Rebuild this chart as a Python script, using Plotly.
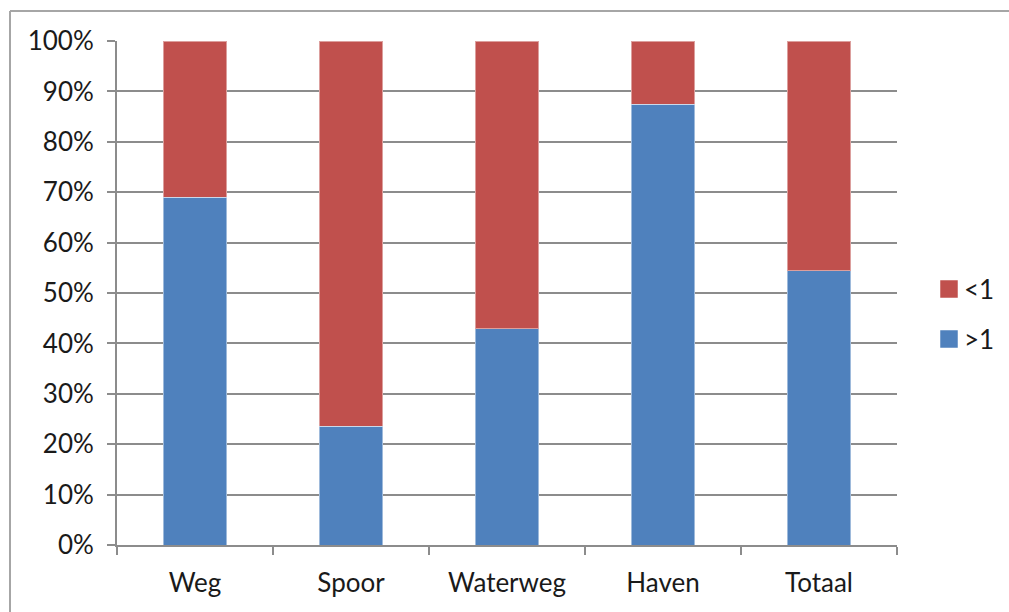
import plotly.graph_objects as go

categories = ["Weg", "Spoor", "Waterweg", "Haven", "Totaal"]
share_above_1 = [69.0, 23.6, 42.9, 87.5, 54.4]
share_below_1 = [100 - v for v in share_above_1]
y_ticks = list(range(0, 101, 10))
y_tick_labels = [f"{v}%" for v in y_ticks]

BLUE = "#4F81BD"
RED = "#C0504D"
GRID = "#8C8C8C"
FRAME = "#A6A6A6"
FONT = "Lato, 'Open Sans', sans-serif"

# plot area geometry in pixels (used to place frame and legend in paper units)
L, T, W, H = 117, 41, 780, 504


def px_x(px):
    return (px - L) / W


def px_y(py):
    return (T + H - py) / H


series = [
    ("<1", share_below_1, RED),
    (">1", share_above_1, BLUE),
]

fig = go.Figure()
for name, vals, color in reversed(series):
    fig.add_trace(go.Bar(
        x=categories, y=vals, name=name, showlegend=False,
        marker=dict(color=color, line=dict(color="rgba(255,255,255,0.45)", width=1)),
    ))

# chart frame: left and top edges of the surrounding box
shapes = [
    dict(type="line", xref="paper", yref="paper", x0=px_x(10), x1=px_x(10),
         y0=px_y(700), y1=px_y(11), line=dict(color=FRAME, width=2)),
    dict(type="line", xref="paper", yref="paper", x0=px_x(10), x1=px_x(1100),
         y0=px_y(11), y1=px_y(11), line=dict(color=FRAME, width=2)),
]
annotations = []

# legend: coloured squares with labels
for i, (name, _, color) in enumerate(series):
    cy = 289 + 50 * i
    shapes.append(dict(
        type="rect", xref="paper", yref="paper",
        x0=px_x(940), x1=px_x(958), y0=px_y(cy + 9), y1=px_y(cy - 9),
        fillcolor=color, line=dict(color="rgba(255,255,255,0.5)", width=1),
    ))
    annotations.append(dict(
        xref="paper", yref="paper", x=px_x(962), y=px_y(cy),
        xanchor="left", yanchor="middle", text=name, showarrow=False,
        font=dict(size=26),
    ))

fig.update_layout(
    barmode="stack",
    bargap=0.595,
    width=1009, height=612,
    margin=dict(l=L, r=1009 - L - W, t=T, b=612 - T - H),
    paper_bgcolor="white", plot_bgcolor="white",
    font=dict(family=FONT, size=26, color="#1a1a1a"),
    showlegend=False,
    shapes=shapes,
    annotations=annotations,
)

fig.update_yaxes(
    range=[0, 100], tickvals=y_ticks, ticktext=y_tick_labels,
    showgrid=True, gridcolor=GRID, gridwidth=2,
    showline=True, linecolor=GRID, linewidth=2,
    ticks="outside", ticklen=8, tickcolor=GRID, tickwidth=2,
    ticklabelstandoff=8, zeroline=False,
)
fig.update_xaxes(
    type="category", tickson="boundaries",
    showline=True, linecolor=GRID, linewidth=2,
    ticks="outside", ticklen=8, tickcolor=GRID, tickwidth=2,
    ticklabelstandoff=14, showgrid=False,
)

fig.write_html("out.html")
